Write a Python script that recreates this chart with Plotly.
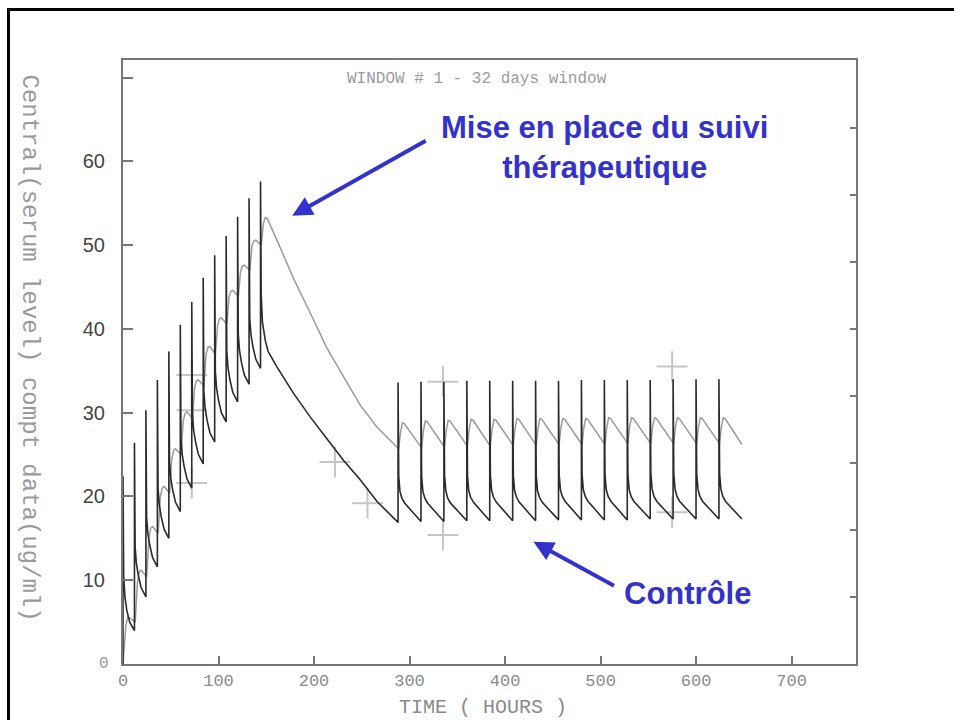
import plotly.graph_objects as go

# ---------------- data ----------------
# Central compartment (dark curve) - loading phase, doses every 12 h
load_dose_t = [0, 12, 24, 36, 48, 60, 72, 84, 96, 108, 120, 132]
load_pre = [0.0, 4.0, 8.0, 11.6, 15.0, 18.2, 21.0, 23.9, 26.5, 28.9, 31.3, 33.4]
load_peak = [22.4, 26.4, 30.3, 33.9, 37.3, 40.5, 43.2, 46.1, 48.8, 51.1, 53.4, 55.6]
central_post_h = [0.7, 2, 4, 7]          # hours after each dose
load_post = [
    [10.5, 8.0, 6.4, 5.0],
    [14.0, 12.0, 10.6, 9.1],
    [17.6, 15.6, 14.2, 12.7],
    [21.0, 19.0, 17.6, 16.1],
    [24.2, 22.2, 20.8, 19.3],
    [27.0, 25.0, 23.6, 22.1],
    [29.9, 27.9, 26.5, 25.0],
    [32.5, 30.5, 29.1, 27.6],
    [34.9, 32.9, 31.5, 30.0],
    [37.3, 35.3, 33.9, 32.4],
    [39.4, 37.4, 36.0, 34.5],
    [41.3, 39.3, 37.9, 36.4],
]
# last loading dose (144 h) and wash-out until 288 h
washout_t = [144, 144, 144.7, 146, 149, 152, 161, 178.6, 196, 213.5, 231, 248.4, 266, 288]
washout_c = [35.3, 57.6, 44.0, 40.8, 38.6, 37.3, 35.5, 32.3, 29.5, 26.9, 24.3, 22.0, 19.4, 16.9]
# maintenance (therapeutic monitoring) - doses every 24 h
maint_dose_t = [288, 312, 336, 360, 384, 408, 432, 456, 480, 504, 528, 552, 576, 600, 624]
maint_pre = [16.9, 17.0, 17.0, 17.1, 17.1, 17.1, 17.1, 17.2, 17.2, 17.2, 17.2, 17.3, 17.3, 17.3, 17.3]
maint_peak = [33.6, 33.7, 33.7, 33.8, 33.8, 33.8, 33.8, 33.8, 33.9, 33.9, 33.9, 33.9, 34.0, 34.0, 34.0]
maint_post = [
    [22.4, 20.6, 19.8, 19.2], [22.4, 20.6, 19.8, 19.2], [22.5, 20.7, 19.8, 19.2],
    [22.5, 20.7, 19.9, 19.3], [22.5, 20.7, 19.9, 19.3], [22.5, 20.7, 19.9, 19.3],
    [22.5, 20.7, 19.9, 19.3], [22.6, 20.8, 20.0, 19.4], [22.6, 20.8, 20.0, 19.4],
    [22.6, 20.8, 20.0, 19.4], [22.6, 20.8, 20.0, 19.4], [22.7, 20.9, 20.0, 19.4],
    [22.7, 20.9, 20.0, 19.4], [22.7, 20.9, 20.0, 19.4], [22.7, 20.9, 20.0, 19.4],
]
central_end = (648, 17.3)

# Second (lighter) curve
periph_start = (0, 0.0)
periph_post_h_load = [0.8, 3, 5, 7]
periph_load_t = [0, 12, 24, 36, 48, 60, 72, 84, 96, 108, 120, 132, 144]
periph_load = [
    [1.5, 4.6, 5.6, 5.5],
    [5.0, 9.6, 11.0, 11.2],
    [10.4, 15.0, 16.2, 16.4],
    [15.6, 19.9, 21.0, 21.2],
    [20.4, 24.5, 25.5, 25.7],
    [25.0, 29.0, 29.9, 30.1],
    [29.3, 33.0, 33.8, 33.9],
    [33.2, 37.0, 37.8, 37.9],
    [37.0, 40.4, 41.2, 41.3],
    [40.6, 43.8, 44.5, 44.6],
    [43.9, 46.8, 47.5, 47.6],
    [47.0, 49.9, 50.5, 50.6],
    [50.0, 52.6, 53.3, 53.2],
]
periph_wash_t = [161.2, 178.6, 196.1, 213.5, 230.9, 248.4, 265.9]
periph_wash_c = [50.6, 46.0, 41.9, 37.7, 34.3, 30.9, 28.3]
periph_post_h_maint = [0.6, 2.5, 4.5, 6.5]
periph_maint = [
    [25.7, 27.6, 28.8, 28.7], [25.8, 27.8, 29.0, 28.9], [25.9, 27.9, 29.1, 29.0],
    [26.0, 28.0, 29.2, 29.1], [26.0, 28.0, 29.2, 29.1], [26.1, 28.1, 29.3, 29.2],
    [26.1, 28.1, 29.3, 29.2], [26.2, 28.2, 29.3, 29.2], [26.2, 28.2, 29.3, 29.2],
    [26.2, 28.2, 29.4, 29.3], [26.3, 28.3, 29.4, 29.3], [26.3, 28.3, 29.4, 29.3],
    [26.3, 28.3, 29.4, 29.3], [26.3, 28.3, 29.4, 29.3], [26.3, 28.3, 29.4, 29.3],
]
periph_end = (648, 26.2)

# Observed serum levels (+)
obs_t = [72, 72, 72, 222, 256, 335, 335, 575, 575]
obs_c = [34.5, 30.3, 21.6, 24.1, 19.2, 33.7, 15.4, 35.5, 18.1]

x_ticks = [0, 100, 200, 300, 400, 500, 600, 700]
y_ticks = [0, 10, 20, 30, 40, 50, 60, 70]
y_ticktext = ["", "10", "20", "30", "40", "50", "60", ""]
right_ticks = [8, 16, 24, 32, 40, 48, 56, 64]

# ---------------- build the curves ----------------
cx, cy = [], []
for td, pre, pk, post in zip(load_dose_t, load_pre, load_peak, load_post):
    cx += [td, td] + [td + o for o in central_post_h]
    cy += [pre, pk] + post
cx += washout_t
cy += washout_c
for td, pre, pk, post in zip(maint_dose_t, maint_pre, maint_peak, maint_post):
    cx += [td, td] + [td + o for o in central_post_h]
    cy += [pre, pk] + post
cx.append(central_end[0]); cy.append(central_end[1])

px_, py_ = [periph_start[0]], [periph_start[1]]
for td, row in zip(periph_load_t, periph_load):
    px_ += [td + o for o in periph_post_h_load]
    py_ += row
px_ += periph_wash_t
py_ += periph_wash_c
for td, row in zip(maint_dose_t, periph_maint):
    px_ += [td + o for o in periph_post_h_maint]
    py_ += row
px_.append(periph_end[0]); py_.append(periph_end[1])

fig = go.Figure()
fig.add_trace(go.Scatter(x=obs_t, y=obs_c, mode="markers",
                         marker=dict(symbol="cross-thin", size=22,
                                     line=dict(color="#c6c6c6", width=2)),
                         hoverinfo="skip", showlegend=False))
fig.add_trace(go.Scatter(x=px_, y=py_, mode="lines",
                         line=dict(color="#9a9a9a", width=1.5),
                         hoverinfo="skip", showlegend=False))
fig.add_trace(go.Scatter(x=cx, y=cy, mode="lines",
                         line=dict(color="#2b2b2b", width=1.6),
                         hoverinfo="skip", showlegend=False))
# helper trace so the right-hand tick axis is drawn
fig.add_trace(go.Scatter(x=[0], y=[0], yaxis="y2", mode="markers",
                         marker=dict(opacity=0), hoverinfo="skip", showlegend=False))

mono = "Liberation Mono, Courier New, monospace"
sans = "Liberation Sans, Arial, sans-serif"
blue = "#3333cc"

fig.update_layout(
    width=954, height=720,
    margin=dict(l=123, r=98, t=60, b=56, autoexpand=False),
    paper_bgcolor="white", plot_bgcolor="white",
    xaxis=dict(range=[0, 767.5], tickvals=x_ticks, ticks="inside", ticklen=8,
               tickwidth=2, tickcolor="#777", showline=True, linecolor="#777",
               linewidth=2, mirror=True, showgrid=False, zeroline=False,
               tickfont=dict(family=mono, size=17, color="#8a8a8a")),
    yaxis=dict(range=[0, 72.1], tickvals=y_ticks, ticktext=y_ticktext,
               ticks="inside", ticklen=10, tickwidth=2, tickcolor="#777",
               showline=True, linecolor="#777", linewidth=2, mirror=True,
               showgrid=False, zeroline=False, ticklabelstandoff=12,
               tickfont=dict(family=sans, size=20, color="#444")),
    yaxis2=dict(range=[0, 72.1], overlaying="y", side="right", anchor="x",
                tickvals=right_ticks, ticks="inside", ticklen=6, tickwidth=2,
                tickcolor="#777", showticklabels=False, showgrid=False,
                zeroline=False, showline=False),
)

annotations = [
    dict(text="WINDOW # 1 - 32 days window", x=0.4836, y=0.9685, xref="paper",
         yref="paper", showarrow=False, xanchor="center", yanchor="middle",
         font=dict(family=mono, size=16, color="#9b9b9b")),
    dict(text="Central(serum level) compt data(ug/ml)", x=-0.1282, y=0.524,
         xref="paper", yref="paper", showarrow=False, textangle=90,
         xanchor="center", yanchor="middle",
         font=dict(family=mono, size=24, color="#9a9a9a")),
    dict(text="TIME ( HOURS )", x=0.491, y=-0.0728, xref="paper", yref="paper",
         showarrow=False, xanchor="center", yanchor="middle",
         font=dict(family=mono, size=20, color="#8a8a8a")),
    dict(text="0", x=-0.026, y=0.0, xref="paper", yref="paper", showarrow=False,
         xanchor="center", yanchor="middle",
         font=dict(family=mono, size=16, color="#9a9a9a")),
    dict(text="<b>Mise en place du suivi</b><br><b>thérapeutique</b>", x=0.6569,
         y=0.855, xref="paper", yref="paper", showarrow=False, xanchor="center",
         yanchor="middle", align="center",
         font=dict(family=sans, size=31, color=blue)),
    dict(text="<b>Contrôle</b>", x=0.7704, y=0.1175, xref="paper", yref="paper",
         showarrow=False, xanchor="center", yanchor="middle",
         font=dict(family=sans, size=31, color=blue)),
    # arrows
    dict(text="", x=177.2, y=53.5, xref="x", yref="y", ax=135, ay=-76,
         showarrow=True, arrowhead=2, arrowsize=1, arrowwidth=4,
         arrowcolor=blue, standoff=0),
    dict(text="", x=429.8, y=14.6, xref="x", yref="y", ax=82, ay=45,
         showarrow=True, arrowhead=2, arrowsize=1, arrowwidth=4,
         arrowcolor=blue, standoff=0),
]
fig.update_layout(annotations=annotations)

# outer slide frame
fig.add_shape(type="rect", xref="paper", yref="paper",
              x0=-0.1562, x1=1.16, y0=-0.12, y1=1.0836,
              line=dict(color="black", width=3), fillcolor="rgba(0,0,0,0)",
              layer="above")

fig.write_html("out.html")
